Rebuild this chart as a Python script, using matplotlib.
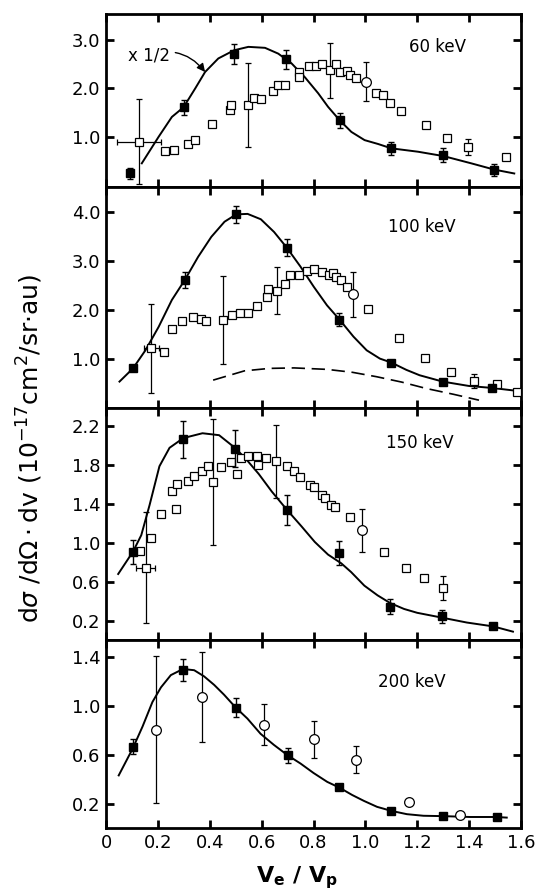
import numpy as np
import matplotlib.pyplot as plt

plt.rcParams['font.family'] = 'DejaVu Sans'
plt.rcParams['mathtext.fontset'] = 'dejavusans'

# ---------------- 60 keV ----------------
e60_fx = [0.094, 0.299, 0.494, 0.694, 0.901, 1.10, 1.301, 1.497]
e60_fy = [0.24, 1.61, 2.71, 2.60, 1.34, 0.76, 0.62, 0.31]
e60_ferr = [0.12, 0.15, 0.20, 0.19, 0.16, 0.14, 0.14, 0.12]
e60_curve_x = [0.138, 0.203, 0.254, 0.299, 0.344, 0.382, 0.433, 0.494, 0.549, 0.613,
               0.664, 0.715, 0.767, 0.818, 0.856, 0.901, 0.946, 0.997, 1.049, 1.10,
               1.203, 1.301, 1.408, 1.497, 1.574]
e60_curve_y = [0.45, 1.0, 1.41, 1.61, 2.0, 2.34, 2.62, 2.79, 2.86, 2.84,
               2.72, 2.52, 2.23, 1.90, 1.62, 1.34, 1.10, 0.93, 0.85, 0.76,
               0.69, 0.60, 0.45, 0.32, 0.24]
e60_ox = [0.126, 0.228, 0.264, 0.315, 0.344, 0.408, 0.478, 0.482, 0.549, 0.572,
          0.597, 0.645, 0.665, 0.692, 0.744, 0.746, 0.782, 0.808, 0.833, 0.863,
          0.885, 0.901, 0.931, 0.940, 0.962, 1.042, 1.068, 1.094, 1.138, 1.235,
          1.314, 1.395, 1.542]
e60_oy = [0.90, 0.71, 0.72, 0.85, 0.94, 1.26, 1.55, 1.66, 1.66, 1.81,
          1.79, 1.95, 2.08, 2.08, 2.34, 2.24, 2.47, 2.47, 2.50, 2.38,
          2.50, 2.34, 2.36, 2.28, 2.21, 1.90, 1.86, 1.70, 1.54, 1.24,
          0.98, 0.79, 0.59]
e60_oerr_x = [0.126, 0.549, 0.863, 1.395]
e60_oerr_y = [0.90, 1.66, 2.38, 0.79]
e60_oerr = [0.88, 0.87, 0.57, 0.17]
e60_oxerr = [0.085, 0, 0, 0]
e60_cx = [1.004]
e60_cy = [2.14]
e60_cerr = [0.40]

# ---------------- 100 keV ----------------
e100_fx = [0.104, 0.304, 0.502, 0.697, 0.90, 1.10, 1.298, 1.489]
e100_fy = [0.81, 2.62, 3.96, 3.28, 1.81, 0.93, 0.54, 0.41]
e100_ferr = [0.0, 0.16, 0.18, 0.18, 0.14, 0.0, 0.0, 0.0]
e100_curve_x = [0.052, 0.104, 0.152, 0.203, 0.254, 0.304, 0.355, 0.406, 0.457, 0.502,
                0.546, 0.597, 0.648, 0.697, 0.75, 0.801, 0.852, 0.90, 0.954, 1.005,
                1.056, 1.10, 1.158, 1.209, 1.298, 1.40, 1.489, 1.585]
e100_curve_y = [0.54, 0.81, 1.18, 1.66, 2.21, 2.62, 3.09, 3.50, 3.81, 3.96,
                3.97, 3.86, 3.60, 3.28, 2.89, 2.48, 2.10, 1.81, 1.46, 1.18,
                1.01, 0.93, 0.78, 0.67, 0.54, 0.45, 0.41, 0.35]
e100_dash_x = [0.413, 0.534, 0.63, 0.725, 0.852, 0.95, 1.043, 1.14, 1.234, 1.34, 1.438]
e100_dash_y = [0.57, 0.76, 0.81, 0.82, 0.79, 0.73, 0.64, 0.53, 0.40, 0.28, 0.16]
e100_ox = [0.175, 0.222, 0.254, 0.294, 0.334, 0.366, 0.387, 0.451, 0.485, 0.515,
           0.546, 0.581, 0.620, 0.623, 0.659, 0.689, 0.709, 0.746, 0.776, 0.801,
           0.831, 0.859, 0.875, 0.888, 0.907, 0.929, 1.011, 1.129, 1.228, 1.330,
           1.419, 1.508, 1.585]
e100_oy = [1.22, 1.15, 1.61, 1.78, 1.87, 1.82, 1.78, 1.80, 1.91, 1.95,
           1.95, 2.09, 2.27, 2.43, 2.40, 2.53, 2.72, 2.72, 2.81, 2.84,
           2.79, 2.73, 2.77, 2.67, 2.62, 2.48, 2.02, 1.44, 1.03, 0.73,
           0.55, 0.49, 0.33]
e100_oerr_x = [0.175, 0.451, 0.659, 1.419]
e100_oerr_y = [1.22, 1.80, 2.40, 0.55]
e100_oerr = [0.91, 0.90, 0.48, 0.15]
e100_oxerr = [0.029, 0, 0, 0]
e100_cx = [0.954]
e100_cy = [2.33]
e100_cerr = [0.46]

# ---------------- 150 keV ----------------
e150_fx = [0.104, 0.298, 0.497, 0.698, 0.90, 1.096, 1.296, 1.493]
e150_fy = [0.907, 2.07, 1.97, 1.34, 0.90, 0.345, 0.245, 0.14]
e150_ferr = [0.12, 0.19, 0.19, 0.155, 0.125, 0.08, 0.065, 0.0]
e150_curve_x = [0.047, 0.104, 0.136, 0.168, 0.206, 0.245, 0.298, 0.372, 0.436, 0.497,
                0.538, 0.589, 0.639, 0.698, 0.754, 0.805, 0.856, 0.907, 0.945, 0.996,
                1.047, 1.096, 1.149, 1.20, 1.296, 1.391, 1.493, 1.569]
e150_curve_y = [0.68, 0.91, 1.08, 1.39, 1.79, 1.98, 2.08, 2.13, 2.11, 1.98,
                1.87, 1.71, 1.53, 1.34, 1.17, 1.01, 0.88, 0.79, 0.70, 0.56,
                0.46, 0.38, 0.32, 0.28, 0.23, 0.18, 0.14, 0.086]
e150_ox = [0.130, 0.153, 0.175, 0.213, 0.254, 0.273, 0.270, 0.318, 0.340, 0.369,
           0.394, 0.413, 0.445, 0.480, 0.506, 0.522, 0.548, 0.583, 0.586, 0.618,
           0.655, 0.698, 0.726, 0.749, 0.787, 0.803, 0.833, 0.843, 0.866, 0.882,
           0.939, 1.073, 1.158, 1.225, 1.298]
e150_oy = [0.92, 0.745, 1.05, 1.30, 1.54, 1.61, 1.35, 1.64, 1.69, 1.74,
           1.79, 1.63, 1.78, 1.83, 1.71, 1.88, 1.90, 1.90, 1.80, 1.88,
           1.84, 1.79, 1.74, 1.68, 1.60, 1.58, 1.49, 1.46, 1.39, 1.37,
           1.27, 0.91, 0.745, 0.64, 0.535]
e150_oerr_x = [0.153, 0.413, 0.655, 1.298]
e150_oerr_y = [0.745, 1.63, 1.84, 0.535]
e150_oerr = [0.57, 0.65, 0.38, 0.12]
e150_oxerr = [0.037, 0, 0, 0]
e150_cx = [0.987]
e150_cy = [1.13]
e150_cerr = [0.22]

# ---------------- 200 keV ----------------
e200_fx = [0.103, 0.298, 0.50, 0.70, 0.90, 1.10, 1.30, 1.506]
e200_fy = [0.664, 1.29, 0.985, 0.595, 0.336, 0.14, 0.10, 0.09]
e200_ferr = [0.06, 0.09, 0.08, 0.06, 0.0, 0.0, 0.0, 0.0]
e200_curve_x = [0.049, 0.103, 0.141, 0.179, 0.212, 0.25, 0.297, 0.34, 0.378, 0.417,
                0.455, 0.50, 0.545, 0.596, 0.647, 0.70, 0.75, 0.80, 0.853, 0.90,
                0.949, 0.994, 1.045, 1.10, 1.16, 1.224, 1.30, 1.404, 1.504, 1.545]
e200_curve_y = [0.43, 0.65, 0.83, 1.03, 1.15, 1.25, 1.30, 1.29, 1.24, 1.17,
                1.09, 0.985, 0.895, 0.77, 0.68, 0.595, 0.527, 0.45, 0.377, 0.33,
                0.27, 0.222, 0.173, 0.14, 0.113, 0.10, 0.097, 0.09, 0.09, 0.085]
e200_cx = [0.194, 0.370, 0.610, 0.802, 0.963, 1.168, 1.363]
e200_cy = [0.805, 1.07, 0.846, 0.726, 0.56, 0.214, 0.105]
e200_cerr = [0.60, 0.37, 0.17, 0.15, 0.11, 0.0, 0.0]

panels = [
    dict(fx=e60_fx, fy=e60_fy, ferr=e60_ferr, cx=e60_curve_x, cy=e60_curve_y,
         ox=e60_ox, oy=e60_oy, oex=e60_oerr_x, oey=e60_oerr_y, oe=e60_oerr, oxe=e60_oxerr,
         ccx=e60_cx, ccy=e60_cy, cce=e60_cerr,
         ylim=(-0.04, 3.54), yticks=[1.0, 2.0, 3.0], label='60 keV', lpos=(1.277, 2.86)),
    dict(fx=e100_fx, fy=e100_fy, ferr=e100_ferr, cx=e100_curve_x, cy=e100_curve_y,
         ox=e100_ox, oy=e100_oy, oex=e100_oerr_x, oey=e100_oerr_y, oe=e100_oerr, oxe=e100_oxerr,
         ccx=e100_cx, ccy=e100_cy, cce=e100_cerr,
         ylim=(0.0, 4.52), yticks=[1.0, 2.0, 3.0, 4.0], label='100 keV', lpos=(1.216, 3.70)),
    dict(fx=e150_fx, fy=e150_fy, ferr=e150_ferr, cx=e150_curve_x, cy=e150_curve_y,
         ox=e150_ox, oy=e150_oy, oex=e150_oerr_x, oey=e150_oerr_y, oe=e150_oerr, oxe=e150_oxerr,
         ccx=e150_cx, ccy=e150_cy, cce=e150_cerr,
         ylim=(0.0, 2.39), yticks=[0.2, 0.6, 1.0, 1.4, 1.8, 2.2], label='150 keV', lpos=(1.21, 2.03)),
    dict(fx=e200_fx, fy=e200_fy, ferr=e200_ferr, cx=e200_curve_x, cy=e200_curve_y,
         ox=[], oy=[], oex=[], oey=[], oe=[], oxe=[],
         ccx=e200_cx, ccy=e200_cy, cce=e200_cerr,
         ylim=(0.0, 1.537), yticks=[0.2, 0.6, 1.0, 1.4], label='200 keV', lpos=(1.18, 1.19)),
]

# panel boxes in pixels (top, bottom) of a 541x896 figure
W, H = 541, 896
left_px, right_px = 106, 521
bounds = [(14, 187), (187, 408), (408, 640), (640, 828)]

fig = plt.figure(figsize=(W / 100, H / 100), dpi=100)
axes = []
for (top, bot), p in zip(bounds, panels):
    ax = fig.add_axes([left_px / W, 1 - bot / H, (right_px - left_px) / W, (bot - top) / H])
    axes.append(ax)

    # fit curve
    ax.plot(p['cx'], p['cy'], color='black', lw=1.4, zorder=2)

    # open squares and their error bars
    if p['oex']:
        ax.errorbar(p['oex'], p['oey'], yerr=p['oe'], xerr=p['oxe'], fmt='none',
                    ecolor='black', elinewidth=0.9, capsize=2.5, capthick=0.9, zorder=3)
    ax.plot(p['ox'], p['oy'], 's', ms=5.5, mfc='white', mec='black', mew=0.9, zorder=4)

    # open circles
    ax.errorbar(p['ccx'], p['ccy'], yerr=p['cce'], fmt='o', ms=7, mfc='white', mec='black',
                mew=0.9, ecolor='black', elinewidth=0.9, capsize=2.5, capthick=0.9, zorder=4)

    # filled squares
    ax.errorbar(p['fx'], p['fy'], yerr=p['ferr'], fmt='s', ms=6, color='black',
                ecolor='black', elinewidth=1.0, capsize=2.5, capthick=1.0, zorder=5)

    ax.text(p['lpos'][0], p['lpos'][1], p['label'], ha='center', va='center', fontsize=12)

    ax.set_xlim(0, 1.6)
    ax.set_ylim(*p['ylim'])
    ax.set_yticks(p['yticks'])
    ax.set_yticklabels(['%.1f' % v for v in p['yticks']])
    ax.set_xticks(np.arange(0, 1.61, 0.2))
    ax.tick_params(direction='in', length=6, width=2, top=True, right=True,
                   labelsize=13, pad=4, labelbottom=False)
    for s in ax.spines.values():
        s.set_linewidth(2)

axes[-1].tick_params(labelbottom=True)
axes[-1].set_xticklabels(['0', '0.2', '0.4', '0.6', '0.8', '1.0', '1.2', '1.4', '1.6'])

# x 1/2 annotation
axes[0].annotate('x 1/2', xy=(0.382, 2.34), xytext=(0.165, 2.69),
                 ha='center', va='center', fontsize=12,
                 arrowprops=dict(arrowstyle='-|>', color='black', lw=1.0,
                                 connectionstyle='arc3,rad=-0.35', shrinkA=2, shrinkB=0))

# dashed curve in 100 keV panel
axes[1].plot(e100_dash_x, e100_dash_y, color='black', lw=1.2, dashes=(8, 4), zorder=2)

fig.text(30 / W, 1 - 448 / H,
         r'd$\sigma$ /d$\Omega\cdot$dv (10$^{-17}$cm$^2$/sr$\cdot$au)',
         rotation=90, ha='center', va='center', fontsize=18)
fig.text(297 / W, 1 - 878 / H, r'V$_\mathregular{e}$ / V$_\mathregular{p}$',
         ha='center', va='center', fontsize=16, fontweight='bold')

fig.savefig('out.png', dpi=100)
